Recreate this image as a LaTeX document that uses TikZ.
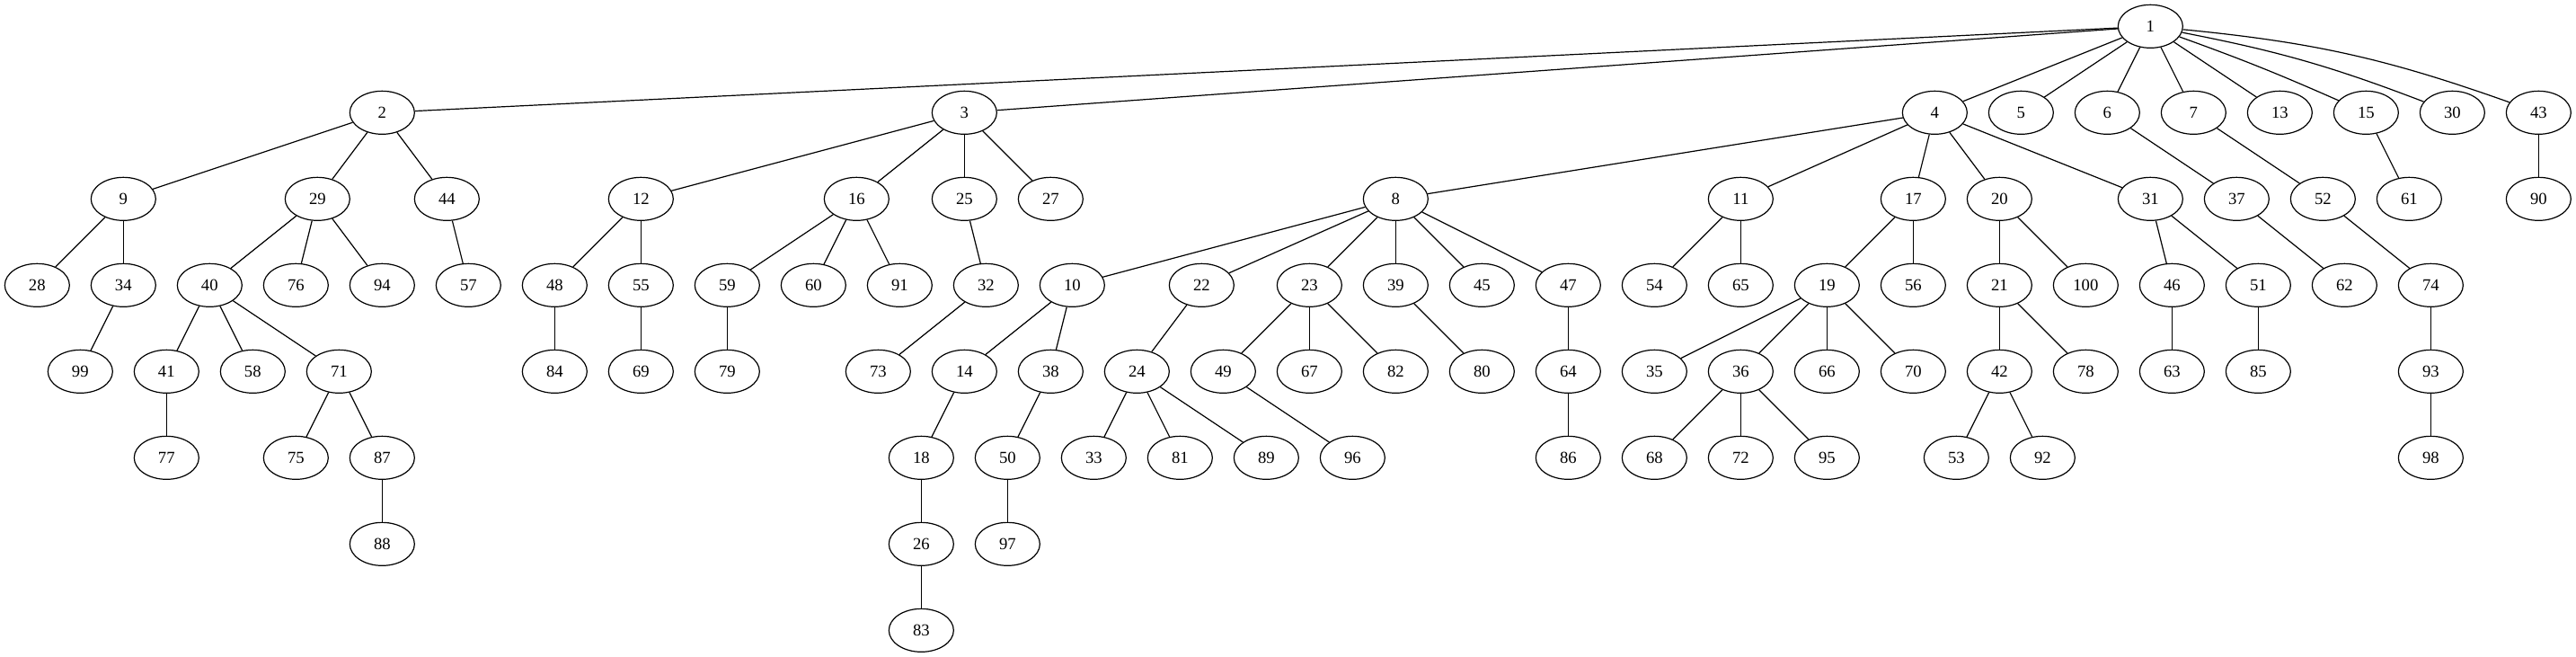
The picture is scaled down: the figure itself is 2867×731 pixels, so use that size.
\documentclass[tikz,border=0pt]{standalone}
\usepackage{fontspec}
\setmainfont{Liberation Serif}
\usetikzlibrary{shapes.geometric}
\begin{document}
\begin{tikzpicture}[x=0.75pt,y=-0.75pt,
  vnode/.style={draw,ellipse,line width=0.9pt,minimum width=54pt,minimum height=36pt,inner sep=0pt,font=\fontsize{14}{16}\selectfont},
  tedge/.style={line width=0.9pt}]
\useasboundingbox[fill=white] (0,0) rectangle (2867,731);
\foreach \n/\x/\r in {
 1/2393.33/0,
 2/425.33/1, 3/1073.33/1, 4/2153.33/1, 5/2249.33/1, 6/2345.33/1, 7/2441.33/1, 13/2537.33/1, 15/2633.33/1, 30/2729.33/1, 43/2825.33/1,
 9/137.33/2, 29/353.33/2, 44/497.33/2, 12/713.33/2, 16/953.33/2, 25/1073.33/2, 27/1169.33/2, 8/1553.33/2, 11/1937.33/2, 17/2129.33/2, 20/2225.33/2, 31/2393.33/2, 37/2489.33/2, 52/2585.33/2, 61/2681.33/2, 90/2825.33/2,
 28/41.33/3, 34/137.33/3, 40/233.33/3, 76/329.33/3, 94/425.33/3, 57/521.33/3, 48/617.33/3, 55/713.33/3, 59/809.33/3, 60/905.33/3, 91/1001.33/3, 32/1097.33/3, 10/1193.33/3, 22/1337.33/3, 23/1457.33/3, 39/1553.33/3, 45/1649.33/3, 47/1745.33/3, 54/1841.33/3, 65/1937.33/3, 19/2033.33/3, 56/2129.33/3, 21/2225.33/3, 100/2321.33/3, 46/2417.33/3, 51/2513.33/3, 62/2609.33/3, 74/2705.33/3,
 99/89.33/4, 41/185.33/4, 58/281.33/4, 71/377.33/4, 84/617.33/4, 69/713.33/4, 79/809.33/4, 73/977.33/4, 14/1073.33/4, 38/1169.33/4, 24/1265.33/4, 49/1361.33/4, 67/1457.33/4, 82/1553.33/4, 80/1649.33/4, 64/1745.33/4, 35/1841.33/4, 36/1937.33/4, 66/2033.33/4, 70/2129.33/4, 42/2225.33/4, 78/2321.33/4, 63/2417.33/4, 85/2513.33/4, 93/2705.33/4,
 77/185.33/5, 75/329.33/5, 87/425.33/5, 18/1025.33/5, 50/1121.33/5, 33/1217.33/5, 81/1313.33/5, 89/1409.33/5, 96/1505.33/5, 86/1745.33/5, 68/1841.33/5, 72/1937.33/5, 95/2033.33/5, 53/2177.33/5, 92/2273.33/5, 98/2705.33/5,
 88/425.33/6, 26/1025.33/6, 97/1121.33/6,
 83/1025.33/7}
 \node[vnode] (n\n) at (\x,{29.33+96*\r}) {\n};
\foreach \a/\b in {
 1/2, 1/3, 1/4, 1/5, 1/6, 1/7, 1/13,
 2/9, 2/29, 2/44, 3/12, 3/16, 3/25, 3/27, 4/8, 4/11, 4/17, 4/20, 4/31,
 6/37, 7/52, 15/61, 43/90,
 9/28, 9/34, 29/40, 29/76, 29/94, 44/57, 12/48, 12/55, 16/59, 16/60, 16/91, 25/32,
 8/10, 8/22, 8/23, 8/39, 8/45, 8/47, 11/54, 11/65, 17/19, 17/56, 20/21, 20/100,
 31/46, 31/51, 37/62, 52/74,
 34/99, 40/41, 40/58, 40/71, 48/84, 55/69, 59/79, 32/73, 10/14, 10/38, 22/24,
 23/49, 23/67, 23/82, 39/80, 47/64, 19/35, 19/36, 19/66, 19/70, 21/42, 21/78,
 46/63, 51/85, 74/93,
 41/77, 71/75, 71/87, 14/18, 38/50, 24/33, 24/81, 24/89, 49/96, 64/86,
 36/68, 36/72, 36/95, 42/53, 42/92, 93/98,
 87/88, 18/26, 50/97, 26/83}
 \draw[tedge] (n\a) -- (n\b);
\draw[tedge] (n1) to[bend left=2] (n15);
\draw[tedge] (n1) to[bend left=5] (n30);
\draw[tedge] (n1) to[bend left=7] (n43);
\end{tikzpicture}
\end{document}
